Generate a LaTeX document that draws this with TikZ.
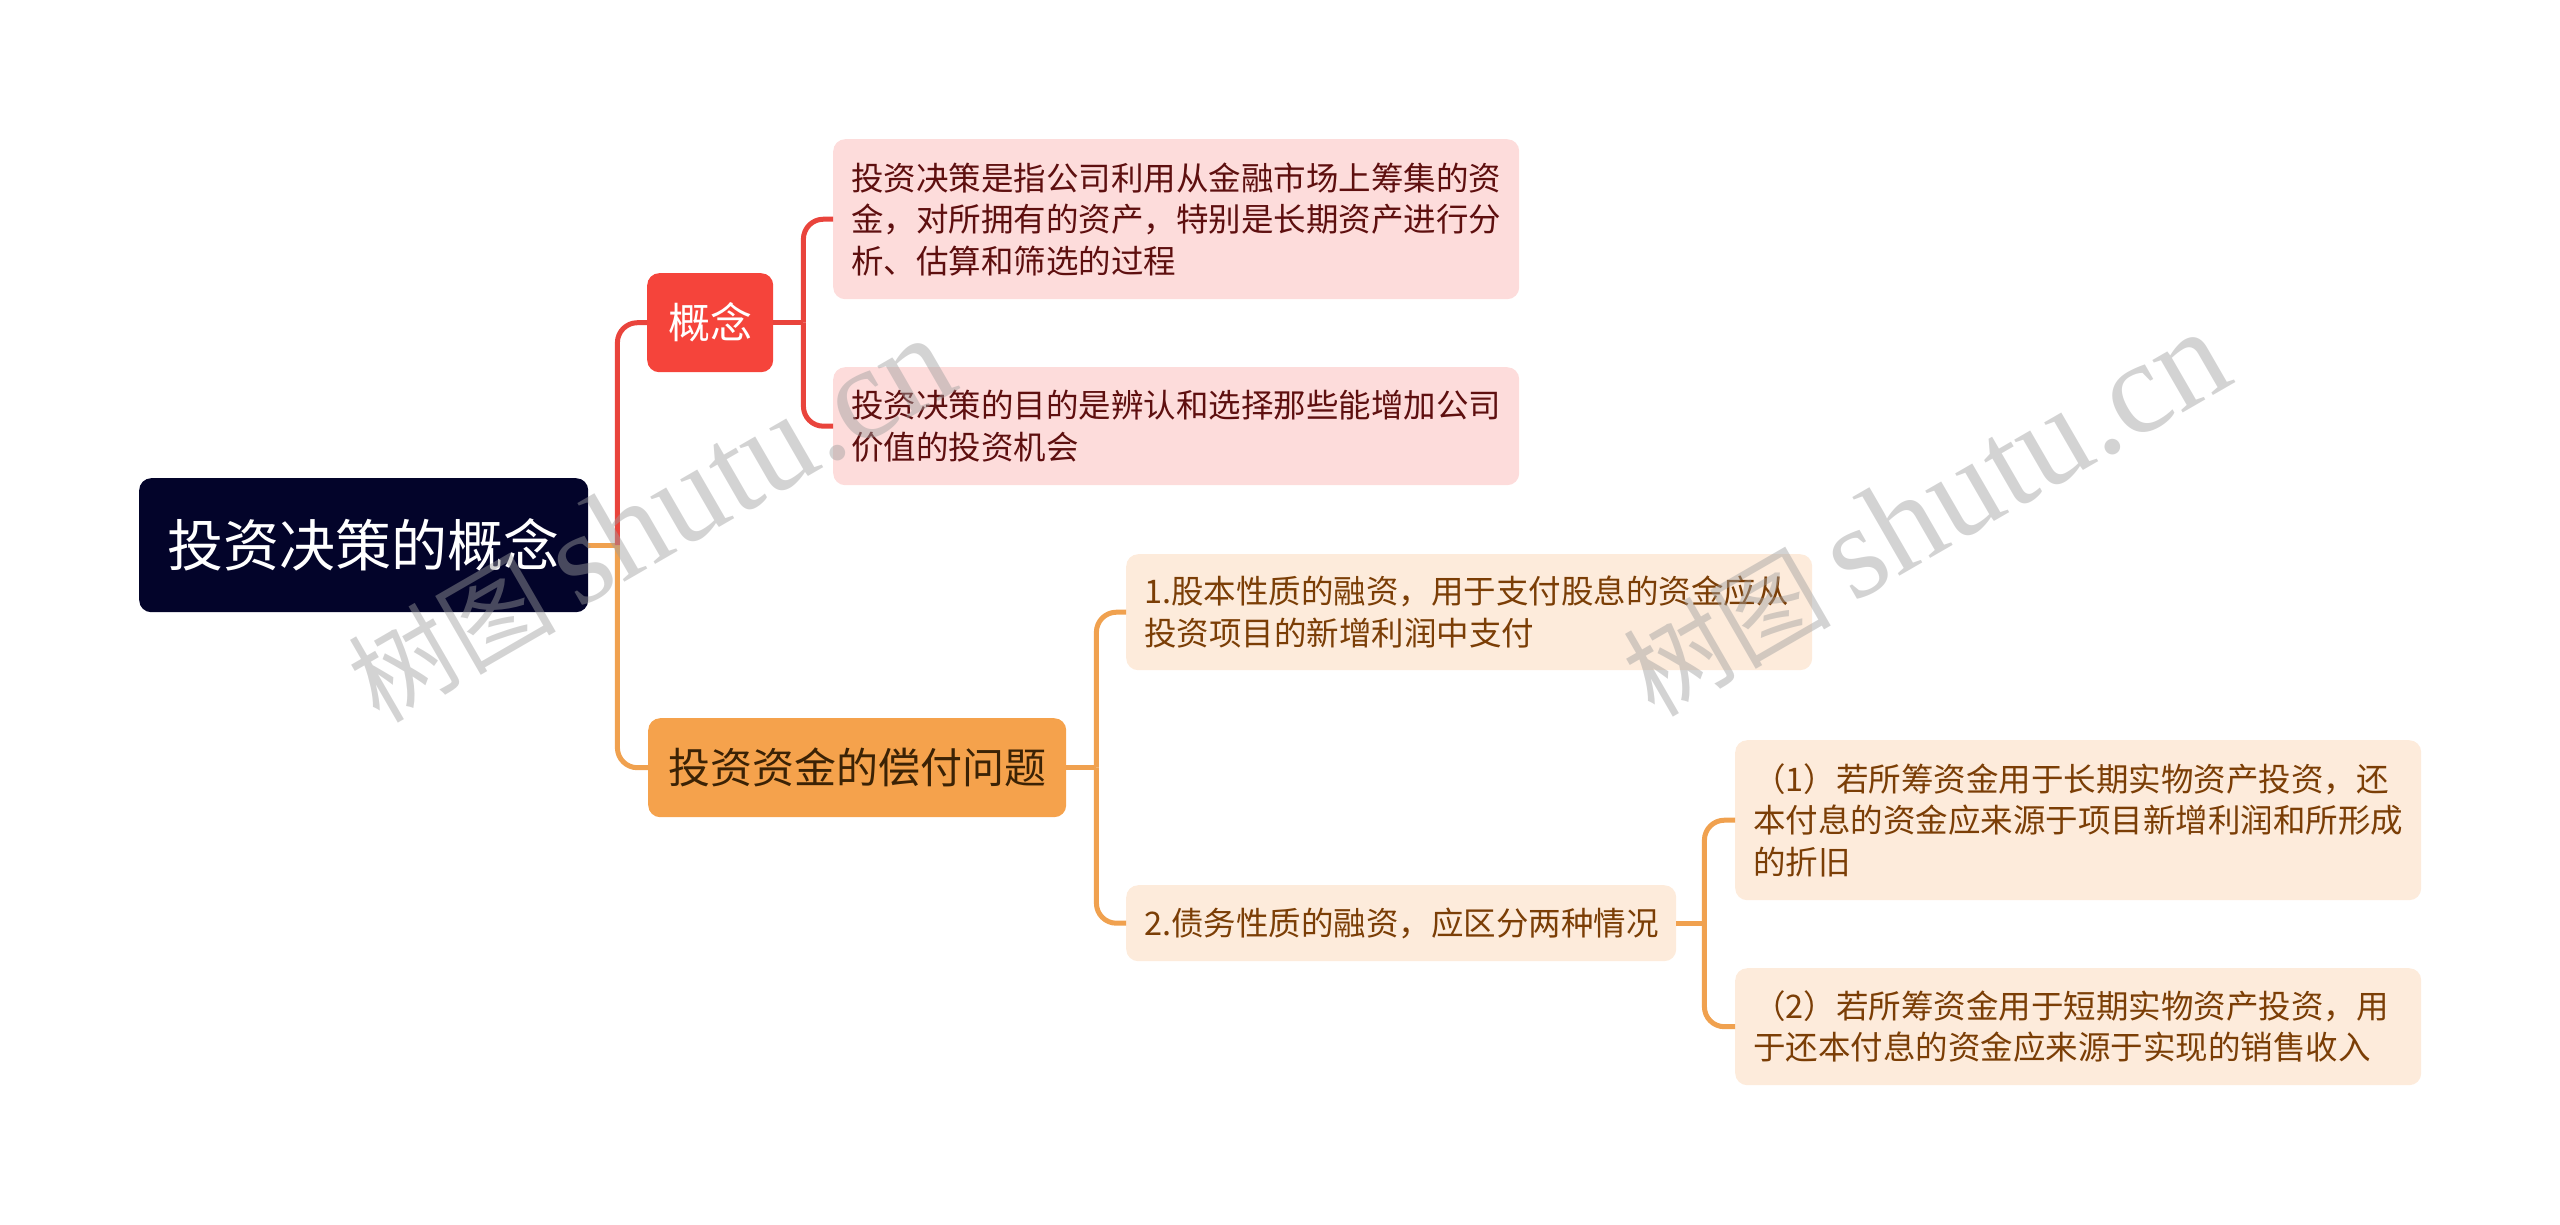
\documentclass[tikz,border=0pt]{standalone}
\usepackage{fontspec}
\setmainfont{Noto Sans CJK SC}
\newfontfamily\wmlat{Liberation Serif}
\newfontfamily\wmcjk{Noto Sans CJK SC}
\definecolor{navy}{HTML}{03042A}
\definecolor{redfill}{HTML}{F5443B}
\definecolor{redline}{HTML}{E9443C}
\definecolor{pinkfill}{HTML}{FDDCDB}
\definecolor{pinktext}{HTML}{5E0F0F}
\definecolor{orfill}{HTML}{F5A24C}
\definecolor{orline}{HTML}{F0A14F}
\definecolor{ortext}{HTML}{3B2205}
\definecolor{creamfill}{HTML}{FDEBDB}
\definecolor{creamtext}{HTML}{7B3E06}
\definecolor{wmgray}{HTML}{9E9E9E}
\tikzset{
  basebox/.style={rounded corners=12pt, anchor=north west, inner ysep=0pt},
  rootbox/.style={basebox, fill=navy, text=white, align=center, inner xsep=0pt,
    font={\fontsize{56}{64}\selectfont}},
  redbox/.style={basebox, fill=redfill, text=white, align=center, inner xsep=0pt,
    font={\fontsize{42}{50}\selectfont}},
  orbox/.style={basebox, fill=orfill, text=ortext, align=center, inner xsep=0pt,
    font={\fontsize{42}{50}\selectfont}},
  pinkleaf/.style={basebox, fill=pinkfill, text=pinktext, align=left, inner xsep=18pt,
    font={\fontsize{32.5}{41.5}\selectfont}},
  creamleaf/.style={basebox, fill=creamfill, text=creamtext, align=left, inner xsep=18pt,
    font={\fontsize{32.5}{41.5}\selectfont}},
  redconn/.style={draw=redline, line width=5pt},
  orconn/.style={draw=orline, line width=5pt},
  watermark/.style={text=wmgray, opacity=0.45, rotate=30, anchor=center, inner sep=0pt}
}
\begin{document}
\begin{tikzpicture}[x=1pt,y=-1pt]
\useasboundingbox (0,0) rectangle (2560,1225);

% nodes
\node[rootbox, minimum width=449pt, minimum height=134pt] (root) at (139,478) {投资决策的概念};
\node[redbox, minimum width=126pt, minimum height=99pt] (gn) at (647,273) {概念};
\node[orbox, minimum width=418pt, minimum height=99pt] (money) at (648,718) {投资资金的偿付问题};

\node[pinkleaf, text width=650pt, minimum height=160pt] (c1) at (833,139)
  {投资决策是指公司利用从金融市场上筹集的资\\金，对所拥有的资产，特别是长期资产进行分\\析、估算和筛选的过程};
\node[pinkleaf, text width=650pt, minimum height=118pt] (c2) at (833,367)
  {投资决策的目的是辨认和选择那些能增加公司\\价值的投资机会};

\node[creamleaf, text width=650pt, minimum height=116pt] (p1) at (1126,554)
  {1.股本性质的融资，用于支付股息的资金应从\\投资项目的新增利润中支付};
\node[creamleaf, text width=514pt, minimum height=76pt] (p2) at (1126,885)
  {2.债务性质的融资，应区分两种情况};

\node[creamleaf, text width=650pt, minimum height=160pt] (q1) at (1735,740)
  {（1）若所筹资金用于长期实物资产投资，还\\本付息的资金应来源于项目新增利润和所形成\\的折旧};
\node[creamleaf, text width=650pt, minimum height=117pt] (q2) at (1735,968)
  {（2）若所筹资金用于短期实物资产投资，用\\于还本付息的资金应来源于实现的销售收入};

% connectors
\draw[orconn] (root.east) -- ++(29,0);
\draw[orconn, rounded corners=20pt] ([xshift=29pt]root.east) |- (money.west);
\draw[redconn, rounded corners=20pt] ([xshift=29pt]root.east) |- (gn.west);

\draw[redconn] (gn.east) -- ++(30,0);
\draw[redconn, rounded corners=20pt] ([xshift=30pt]gn.east) |- (c1.west);
\draw[redconn, rounded corners=20pt] ([xshift=30pt]gn.east) |- (c2.west);

\draw[orconn] (money.east) -- ++(30,0);
\draw[orconn, rounded corners=20pt] ([xshift=30pt]money.east) |- (p1.west);
\draw[orconn, rounded corners=20pt] ([xshift=30pt]money.east) |- (p2.west);

\draw[orconn] (p2.east) -- ++(28,0);
\draw[orconn, rounded corners=20pt] ([xshift=28pt]p2.east) |- (q1.west);
\draw[orconn, rounded corners=20pt] ([xshift=28pt]p2.east) |- (q2.west);

% watermarks
\node[watermark] (wm1) at (650,520) {{\wmcjk\fontsize{104}{110}\selectfont 树图}\hspace{22pt}{\wmlat\fontsize{132}{140}\selectfont shutu.cn}};
\node[watermark] (wm2) at (1925,514) {{\wmcjk\fontsize{104}{110}\selectfont 树图}\hspace{22pt}{\wmlat\fontsize{132}{140}\selectfont shutu.cn}};
\end{tikzpicture}
\end{document}
